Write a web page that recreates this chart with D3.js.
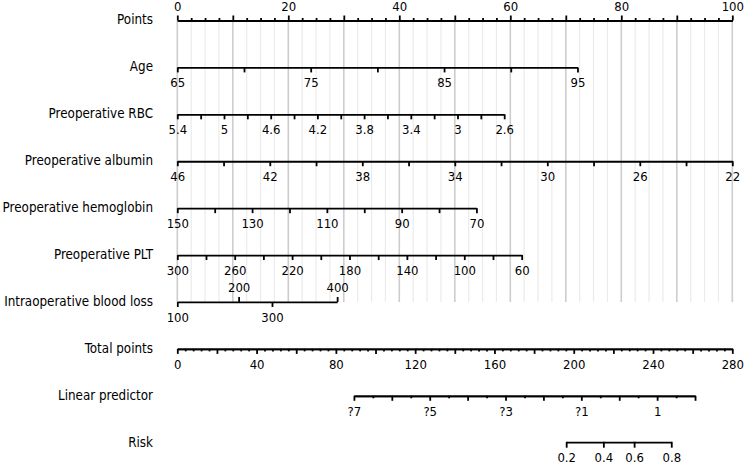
<!DOCTYPE html>
<html><head><meta charset="utf-8">
<script src="https://cdn.jsdelivr.net/npm/d3@7"></script>
<style>
html,body{margin:0;padding:0;background:#fff;}
svg text{font-family:"DejaVu Sans Condensed","DejaVu Sans",sans-serif;fill:#000;}
</style></head>
<body><svg id="chart" width="745" height="466"></svg>
<script>
// ---------- data ----------
const rowNames = ["Points","Age","Preoperative RBC","Preoperative albumin","Preoperative hemoglobin","Preoperative PLT","Intraoperative blood loss","Total points","Linear predictor","Risk"];

const pointsDomain = [0, 100];
const pointsTicksMajor = [0,10,20,30,40,50,60,70,80,90,100];
const pointsLabels = [0,20,40,60,80,100];
const pointsGridStep = 2.5;

const ageValues = [65, 95];
const agePoints = [0, 72.1];
const ageTicks = [65,70,75,80,85,90,95];
const ageLabels = [65,75,85,95];

const rbcValues = [5.4, 2.6];
const rbcPoints = [0, 58.9];
const rbcTicks = [5.4,5.2,5.0,4.8,4.6,4.4,4.2,4.0,3.8,3.6,3.4,3.2,3.0,2.8,2.6];
const rbcLabels = [5.4,5.0,4.6,4.2,3.8,3.4,3.0,2.6];

const albValues = [46, 22];
const albPoints = [0, 100];
const albTicks = [46,44,42,40,38,36,34,32,30,28,26,24,22];
const albLabels = [46,42,38,34,30,26,22];

const hbValues = [150, 70];
const hbPoints = [0, 53.9];
const hbTicks = [150,140,130,120,110,100,90,80,70];
const hbLabels = [150,130,110,90,70];

const pltValues = [300, 60];
const pltPoints = [0, 62.05];
const pltTicks = [300,280,260,240,220,200,180,160,140,120,100,80,60];
const pltLabels = [300,260,220,180,140,100,60];

const lossValues = [100, 200, 300, 400];
const lossPoints = [0, 11.05, 17.06, 28.8];

const totalDomain = [0, 280];
const totalTicksMajor = [0,20,40,60,80,100,120,140,160,180,200,220,240,260,280];
const totalTickStepMinor = 4;
const totalLabels = [0,40,80,120,160,200,240,280];

const lpValues = [-7, 2];
const lpTotal = [89.1, 261.2];
const lpTicksMajor = [-7,-6,-5,-4,-3,-2,-1,0,1,2];
const lpTicksMinor = [-6.5,-5.5,-4.5,-3.5,-2.5,-1.5,-0.5,0.5,1.5];
const lpLabelValues = [-7,-5,-3,-1,1];
const lpLabelTexts = ["?7","?5","?3","?1","1"];

const riskTicks = [0.2,0.4,0.6,0.8];
const riskLabels = ["0.2","0.4","0.6","0.8"];

// ---------- layout ----------
const svg = d3.select("#chart");
const xLeft = 177.3, xRight = 732.3;
const y = d3.scalePoint().domain(rowNames).range([20.5, 442.7]);
const xPts = d3.scaleLinear().domain(pointsDomain).range([xLeft, xRight]);
const xTot = d3.scaleLinear().domain(totalDomain).range([xLeft, xRight]);
const FS = 13.3;
const TFS = 13;
const SW = 1.8;

// grid lines
const gridVals = d3.range(pointsDomain[0], pointsDomain[1] + 0.001, pointsGridStep);
svg.append("g").selectAll("line").data(gridVals).join("line")
  .attr("x1", d => xPts(d)).attr("x2", d => xPts(d))
  .attr("y1", y("Points")).attr("y2", y("Intraoperative blood loss"))
  .attr("stroke", d => (d % 10 === 0) ? "#cdcdcd" : "#ebebeb")
  .attr("stroke-width", d => (d % 10 === 0) ? 1.6 : 1.2);

// row labels
svg.append("g").selectAll("text").data(rowNames).join("text")
  .attr("x", 153).attr("y", d => y(d)).attr("dy", "0.3em")
  .attr("text-anchor", "end").attr("font-size", FS)
  .text(d => d);

function styleAxis(g) {
  g.attr("font-family", null).attr("font-size", null);
  g.select(".domain").attr("stroke", "#000").attr("stroke-width", SW);
  g.selectAll(".tick line").attr("stroke", "#000").attr("stroke-width", SW);
  g.selectAll(".tick text").attr("font-size", TFS).attr("fill", "#000");
}

function fmt(d){ return String(+d.toFixed(4)); }

// Points axis (top)
{
  const g = svg.append("g").attr("transform", `translate(0,${y("Points")})`);
  const minor = gridVals.filter(d => d % 10 !== 0);
  g.call(d3.axisTop(xPts).tickValues(minor).tickSize(2.5).tickSizeOuter(0).tickFormat(""));
  styleAxis(g);
  const g2 = svg.append("g").attr("transform", `translate(0,${y("Points")})`);
  g2.call(d3.axisTop(xPts).tickValues(pointsTicksMajor).tickSize(5).tickSizeOuter(0).tickPadding(4.5)
    .tickFormat(d => pointsLabels.includes(d) ? fmt(d) : ""));
  styleAxis(g2);
}

// variable axes
function varAxis(name, values, pts, ticks, labels) {
  const s = d3.scaleLinear().domain(values).range(pts.map(xPts));
  const g = svg.append("g").attr("transform", `translate(0,${y(name)})`);
  g.call(d3.axisBottom(s).tickValues(ticks).tickSize(5).tickSizeOuter(0).tickPadding(5.5)
    .tickFormat(d => labels.some(l => Math.abs(l - d) < 1e-6) ? fmt(d) : ""));
  styleAxis(g);
}
varAxis("Age", ageValues, agePoints, ageTicks, ageLabels);
varAxis("Preoperative RBC", rbcValues, rbcPoints, rbcTicks, rbcLabels);
varAxis("Preoperative albumin", albValues, albPoints, albTicks, albLabels);
varAxis("Preoperative hemoglobin", hbValues, hbPoints, hbTicks, hbLabels);
varAxis("Preoperative PLT", pltValues, pltPoints, pltTicks, pltLabels);

// blood loss (labels alternate above / below)
{
  const s = d3.scaleLinear().domain(lossValues).range(lossPoints.map(xPts));
  const below = lossValues.filter((d, i) => i % 2 === 0);
  const above = lossValues.filter((d, i) => i % 2 === 1);
  const g = svg.append("g").attr("transform", `translate(0,${y("Intraoperative blood loss")})`);
  g.call(d3.axisBottom(s).tickValues(below).tickSize(5).tickSizeOuter(0).tickPadding(5.5).tickFormat(fmt));
  styleAxis(g);
  const g2 = svg.append("g").attr("transform", `translate(0,${y("Intraoperative blood loss")})`);
  g2.call(d3.axisTop(s).tickValues(above).tickSize(5).tickSizeOuter(0).tickPadding(4.5).tickFormat(fmt));
  styleAxis(g2);
  g2.select(".domain").remove();
}

// Total points
{
  const minor = d3.range(totalDomain[0], totalDomain[1] + 0.001, totalTickStepMinor).filter(d => d % 20 !== 0);
  const g = svg.append("g").attr("transform", `translate(0,${y("Total points")})`);
  g.call(d3.axisBottom(xTot).tickValues(minor).tickSize(2.5).tickSizeOuter(0).tickFormat(""));
  styleAxis(g);
  const g2 = svg.append("g").attr("transform", `translate(0,${y("Total points")})`);
  g2.call(d3.axisBottom(xTot).tickValues(totalTicksMajor).tickSize(5).tickSizeOuter(0).tickPadding(5.5)
    .tickFormat(d => totalLabels.includes(d) ? fmt(d) : ""));
  styleAxis(g2);
}

// Linear predictor
const xLp = d3.scaleLinear().domain(lpValues).range(lpTotal.map(xTot));
{
  const g = svg.append("g").attr("transform", `translate(0,${y("Linear predictor")})`);
  g.call(d3.axisBottom(xLp).tickValues(lpTicksMinor).tickSize(2.5).tickSizeOuter(0).tickFormat(""));
  styleAxis(g);
  const g2 = svg.append("g").attr("transform", `translate(0,${y("Linear predictor")})`);
  g2.call(d3.axisBottom(xLp).tickValues(lpTicksMajor).tickSize(5).tickSizeOuter(0).tickPadding(5.5)
    .tickFormat(d => { const i = lpLabelValues.indexOf(d); return i >= 0 ? lpLabelTexts[i] : ""; }));
  styleAxis(g2);
}

// Risk (logistic of linear predictor)
{
  const logit = p => Math.log(p / (1 - p));
  const g = svg.append("g").attr("transform", `translate(0,${y("Risk")})`);
  const pos = d => xLp(logit(d));
  g.append("line").attr("x1", pos(riskTicks[0])).attr("x2", pos(riskTicks[riskTicks.length-1]))
    .attr("stroke", "#000").attr("stroke-width", SW);
  const t = g.selectAll("g.tk").data(riskTicks).join("g").attr("class","tk")
    .attr("transform", d => `translate(${pos(d)},0)`);
  t.append("line").attr("y1", -SW/2).attr("y2", 5).attr("stroke", "#000").attr("stroke-width", SW);
  t.append("text").attr("y", 10.5).attr("dy", "0.71em").attr("text-anchor", "middle")
    .attr("font-size", TFS).text((d, i) => riskLabels[i]);
}
</script></body></html>
